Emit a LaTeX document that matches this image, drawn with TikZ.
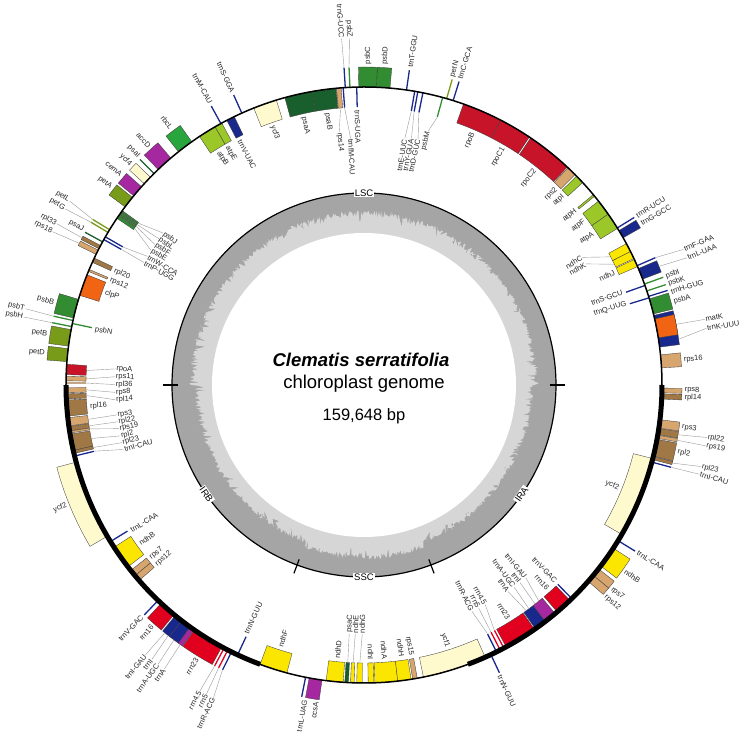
\documentclass[tikz,border=0pt]{standalone}
\usepackage{fontspec}
\setmainfont{Liberation Sans}
\definecolor{psI}{RGB}{25,95,45}
\definecolor{psII}{RGB}{50,140,50}
\definecolor{petc}{RGB}{120,155,25}
\definecolor{atpc}{RGB}{155,200,40}
\definecolor{ndhc}{RGB}{250,230,0}
\definecolor{rbcc}{RGB}{40,165,60}
\definecolor{rpoc}{RGB}{200,20,40}
\definecolor{rpsc}{RGB}{215,165,110}
\definecolor{rplc}{RGB}{160,120,70}
\definecolor{clpc}{RGB}{240,100,20}
\definecolor{othc}{RGB}{165,40,160}
\definecolor{ycfc}{RGB}{255,250,205}
\definecolor{trnc}{RGB}{25,40,140}
\definecolor{rrnc}{RGB}{225,0,30}
\definecolor{gcdark}{RGB}{165,165,165}
\definecolor{gclight}{RGB}{214,214,214}
\tikzset{
 gbox/.style={draw=black!75,line width=0.35pt},
 tline/.style={line width=1.3pt},
 leader/.style={draw=black!40,line width=0.4pt},
 lab/.style={font=\fontsize{7.5}{9}\selectfont,text=black!85,inner sep=0.7pt},
 region/.style={font=\fontsize{9.5}{11}\selectfont,fill=white,inner sep=1pt},
}
% gene boxes
\newcommand\xGO[3]{\filldraw[gbox,fill=#3] (#1:298pt) arc[start angle=#1,end angle=#2,radius=298pt] -- (#2:318pt) arc[start angle=#2,end angle=#1,radius=318pt] -- cycle;}
\newcommand\xGI[3]{\filldraw[gbox,fill=#3] (#1:278pt) arc[start angle=#1,end angle=#2,radius=278pt] -- (#2:298pt) arc[start angle=#2,end angle=#1,radius=298pt] -- cycle;}
\newcommand\xTO[2]{\draw[tline,draw=#2] (#1:298pt) -- (#1:318pt);}
\newcommand\xTI[2]{\draw[tline,draw=#2] (#1:278pt) -- (#1:298pt);}
% labels
\newcommand\xLO[3]{%
 \pgfmathsetmacro\xc{cos(#1)}%
 \ifdim\xc pt<-0.001pt
   \pgfmathsetmacro\xr{#1+180}%
   \node[lab,anchor=east,rotate=\xr] at (#1:#2pt) {#3};%
 \else
   \node[lab,anchor=west,rotate=#1] at (#1:#2pt) {#3};%
 \fi}
\newcommand\xLI[3]{%
 \pgfmathsetmacro\xc{cos(#1)}%
 \ifdim\xc pt<-0.001pt
   \pgfmathsetmacro\xr{#1+180}%
   \node[lab,anchor=west,rotate=\xr] at (#1:#2pt) {#3};%
 \else
   \node[lab,anchor=east,rotate=#1] at (#1:#2pt) {#3};%
 \fi}
\newcommand\xOL[3]{\draw[leader] (#1:318.5pt) -- (#2:347pt); \xLO{#2}{347}{#3}}
\newcommand\xIL[4]{\draw[leader] (#1:277.5pt) -- (#2:#3pt); \xLI{#2}{#3}{#4}}
\begin{document}
\begin{tikzpicture}[x=1pt,y=1pt]
\useasboundingbox (-364,-350) rectangle (381,385);
% ---------- GC ring ----------
\fill[gcdark] (0,0) circle[radius=192pt];
\pgfmathsetseed{7}
\fill[gclight] plot[domain=0:359.7,samples=1200,variable=\t]
  (\t:{175-5*((\t>180)*(\t<249.6)+(\t>290.4))-5*rnd-9*pow(rnd,6)}) -- cycle;
\fill[white] (0,0) circle[radius=152pt];
\draw[line width=1.2pt] (0,0) circle[radius=192pt];
\foreach \a in {0,180,249.6,290.4} \draw[line width=1.2pt] (\a:186pt) -- (\a:201pt);
\node[region] (lsc) at (90:192pt) {LSC};
\node[region] (ssc) at (270:192pt) {SSC};
\node[region,rotate=55.2] (ira) at (-34.8:192pt) {IRA};
\node[region,rotate=-55.2] (irb) at (214.8:192pt) {IRB};
% ---------- title ----------
\node[font=\fontsize{18.5}{22}\selectfont\bfseries\itshape] (title) at (-3,25) {Clematis serratifolia};
\node[font=\fontsize{18.5}{22}\selectfont] (sub) at (0,1) {chloroplast genome};
\node[font=\fontsize{16.5}{20}\selectfont] (size) at (0,-31) {159,648 bp};
% ---------- genes: LSC ----------
\xGO{3.3}{5.8}{rpsc}
\xGO{7.3}{13.5}{trnc}
\xGO{9.1}{12.8}{clpc}
\xGO{13.8}{16.8}{psII}
\xTO{17.3}{trnc}
\xTI{17.0}{trnc}
\xTO{18.4}{psII}
\xTO{19.8}{psII}
\xTI{19.5}{trnc}
\xGO{20.8}{23.0}{trnc}
\xTO{23.6}{trnc}
\xGI{23.4}{24.9}{ndhc}
\xGI{25.1}{26.6}{ndhc}
\xGI{26.6}{28.3}{ndhc}
\xGO{29.6}{31.2}{trnc}
\xTO{31.8}{trnc}
\xGI{31.7}{35.0}{atpc}
\xGI{35.0}{38.1}{atpc}
\xGI{39.3}{39.7}{atpc}
\xGI{42.8}{44.5}{atpc}
\xGI{44.9}{46.8}{rpsc}
\xGI{47.0}{56.0}{rpoc}
\xGI{56.3}{62.7}{rpoc}
\xGI{62.7}{70.5}{rpoc}
\xTO{72.6}{trnc}
\xTO{73.9}{petc}
\xTI{74.7}{psII}
\xTI{78.6}{trnc}
\xTI{79.6}{trnc}
\xTI{80.2}{trnc}
\xTO{81.8}{trnc}
\xGO{85.0}{87.6}{psII}
\xGO{87.6}{91.0}{psII}
\xTI{91.4}{trnc}
\xTO{92.7}{psII}
\xTO{93.6}{trnc}
\xTI{94.0}{trnc}
\xGI{94.4}{95.3}{rpsc}
\xGI{95.4}{100.0}{psI}
\xGI{100.0}{105.4}{psI}
\xGI{107.1}{111.7}{ycfc}
\xTO{114.2}{trnc}
\xGI{115.8}{117.4}{trnc}
\xTO{118.7}{trnc}
\xGI{118.5}{120.0}{atpc}
\xGI{120.0}{123.5}{atpc}
\xGO{125.3}{128.5}{rbcc}
\xGO{130.4}{133.7}{othc}
\xTO{134.8}{psI}
\xGO{135.8}{137.5}{ycfc}
\xGO{138.3}{140.6}{othc}
\xGO{141.0}{143.3}{petc}
\xGI{144.2}{144.5}{psII}
\xGI{144.6}{144.9}{psII}
\xGI{145.0}{145.3}{psII}
\xGI{145.4}{146.0}{psII}
\xTO{148.6}{petc}
\xTO{149.2}{petc}
\xTI{150.2}{trnc}
\xTI{150.8}{trnc}
\xTO{151.3}{psI}
\xGO{152.1}{152.8}{rplc}
\xGO{153.1}{154.0}{rpsc}
\xGI{154.8}{155.7}{rplc}
\xGI{157.2}{157.6}{rpsc}
\xGI{158.3}{162.5}{clpc}
\xGO{163.3}{167.0}{psII}
\xTO{167.5}{psII}
\xTI{168.1}{psII}
\xTO{168.7}{psII}
\xGO{169.3}{172.5}{petc}
\xGO{173.0}{175.5}{petc}
\xGI{176.0}{178.0}{rpoc}
\xGI{178.3}{179.2}{rpsc}
\xTI{179.6}{rplc}
% ---------- IRB ----------
\xGI{180.5}{181.5}{rpsc}
\xGI{181.7}{182.7}{rplc}
\xGI{182.9}{186.0}{rplc}
\xGI{186.3}{187.9}{rpsc}
\xGI{188.0}{188.9}{rplc}
\xGI{188.9}{189.3}{rpsc}
\xGI{189.5}{192.7}{rplc}
\xGI{192.7}{193.3}{rplc}
\xTI{193.8}{trnc}
\xGO{195.0}{210.5}{ycfc}
\xTI{211.7}{trnc}
\xGI{213.0}{217.6}{ndhc}
\xGI{218.5}{219.8}{rpsc}
\xGI{219.8}{221.0}{rpsc}
\xTO{226.3}{trnc}
\xGO{227.1}{230.4}{rrnc}
\xGO{230.7}{232.3}{trnc}
\xGO{232.3}{234.3}{trnc}
\xGO{234.3}{235.2}{othc}
\xGO{235.3}{241.5}{rrnc}
\xTO{242.0}{rrnc}
\xTO{242.8}{rrnc}
\xTO{243.6}{trnc}
\xTI{244.9}{trnc}
% ---------- SSC ----------
\xGI{249.6}{255.0}{ndhc}
\xTO{258.7}{trnc}
\xGO{259.4}{261.9}{othc}
\xGI{262.7}{266.0}{ndhc}
\xGI{266.3}{267.0}{psI}
\xGI{267.4}{268.1}{ndhc}
\xGI{268.6}{269.7}{ndhc}
\xGI{270.8}{271.9}{ndhc}
\xGI{272.1}{276.5}{ndhc}
\xGI{276.5}{279.1}{ndhc}
\xGI{279.4}{280.3}{rpsc}
\xGI{281.5}{294.0}{ycfc}
% ---------- IRA ----------
\xTO{-64.8}{trnc}
\xTI{-63.6}{trnc}
\xTI{-62.8}{rrnc}
\xTI{-62.0}{rrnc}
\xGI{-55.1}{-61.5}{rrnc}
\xGI{-52.5}{-54.9}{trnc}
\xGI{-50.1}{-52.5}{othc}
\xGI{-46.3}{-49.6}{rrnc}
\xTI{-45.8}{trnc}
\xGO{-38.1}{-39.7}{rpsc}
\xGO{-39.7}{-41.2}{rpsc}
\xGO{-33.2}{-37.4}{ndhc}
\xTO{-31.5}{trnc}
\xGI{-14.3}{-30.1}{ycfc}
\xTO{-15.0}{trnc}
\xGO{-13.9}{-14.5}{rplc}
\xGO{-10.5}{-13.8}{rplc}
\xGO{-9.7}{-10.3}{rpsc}
\xGO{-8.4}{-9.6}{rplc}
\xGO{-6.7}{-8.3}{rpsc}
\xGO{-1.7}{-2.7}{rplc}
\xGO{-0.6}{-1.5}{rpsc}
% ---------- genome circle ----------
\draw[line width=1.5pt] (0,0) circle[radius=298pt];
\draw[line width=5pt] (0:298pt) arc[start angle=0,end angle=-69.6,radius=298pt];
\draw[line width=5pt] (180:298pt) arc[start angle=180,end angle=249.6,radius=298pt];
% ---------- labels ----------
\xLO{4.5}{320}{rps16}
\xOL{11.0}{10.9}{matK}
\xOL{8.3}{9.4}{trnK-UUU}
\xLO{15.0}{320}{psbA}
\xLO{16.9}{320}{trnH-GUG}
\xLI{17.2}{275.5}{trnQ-UUG}
\xLO{18.35}{320}{psbK}
\xLO{19.8}{320}{psbI}
\xLI{19.8}{275.5}{trnS-GCU}
\xOL{21.9}{21.5}{trnL-UAA}
\xOL{23.6}{23.0}{trnF-GAA}
\xLI{24.2}{275.5}{ndhJ}
\xIL{25.8}{28.6}{253}{ndhK}
\xIL{27.5}{30.3}{253}{ndhC}
\xLO{30.2}{320}{trnG-GCC}
\xLO{31.8}{320}{trnR-UCU}
\xLI{33.4}{275.5}{atpA}
\xLI{36.6}{275.5}{atpF}
\xLI{39.5}{275.5}{atpH}
\xLI{43.5}{275.5}{atpI}
\xLI{45.6}{275.5}{rps2}
\xLI{51.5}{275.5}{rpoC2}
\xLI{59.5}{275.5}{rpoC1}
\xLI{66.6}{275.5}{rpoB}
\xLO{72.6}{320}{trnC-GCA}
\xLO{74.0}{320}{petN}
\xIL{74.7}{75.8}{262}{psbM}
\xIL{78.6}{77.6}{252}{trnD-GUC}
\xIL{79.6}{79.1}{251}{trnY-GUA}
\xIL{80.2}{80.6}{250}{trnE-UUC}
\xLO{81.7}{320}{trnT-GGU}
\xLO{86.3}{320}{psbD}
\xLO{89.3}{320}{psbC}
\xLI{91.4}{275.5}{trnS-UGA}
\xOL{92.7}{92.4}{psbZ}
\xOL{93.6}{93.7}{trnG-UCC}
\xIL{94.0}{93.1}{247}{trnfM-CAU}
\xIL{94.85}{95.6}{254}{rps14}
\xLI{97.7}{275.5}{psaB}
\xLI{102.7}{275.5}{psaA}
\xLI{109.4}{275.5}{ycf3}
\xLO{114.2}{320}{trnS-GGA}
\xLI{116.9}{275.5}{trnV-UAC}
\xLO{118.6}{320}{trnM-CAU}
\xLI{119.9}{275.5}{atpE}
\xLI{122.0}{275.5}{atpB}
\xLO{126.9}{320}{rbcL}
\xLO{132.0}{320}{accD}
\xLO{134.6}{320}{psaI}
\xLO{136.6}{320}{ycf4}
\xLO{139.2}{320}{cemA}
\xLO{142.0}{320}{petA}
\xIL{144.35}{142.9}{252}{psbJ}
\xIL{144.75}{144.5}{252}{psbL}
\xIL{145.15}{146.1}{252}{psbF}
\xIL{145.7}{147.7}{252}{psbE}
\xIL{150.2}{149.3}{252}{trnW-CCA}
\xIL{150.8}{150.9}{252}{trnP-UGG}
\xOL{148.6}{148.0}{petL}
\xOL{149.2}{149.5}{petG}
\xLO{151.0}{320}{psaJ}
\xOL{152.45}{152.3}{rpl33}
\xOL{153.55}{153.8}{rps18}
\xLI{155.3}{275.5}{rpl20}
\xLI{157.5}{275.5}{rps12}
\xLI{160.4}{275.5}{clpP}
\xLO{165.1}{320}{psbB}
\xOL{167.5}{167.3}{psbT}
\xLI{168.3}{275.5}{psbN}
\xOL{168.7}{168.7}{psbH}
\xLO{170.9}{320}{petB}
\xLO{174.3}{320}{petD}
\xIL{177.0}{176.3}{249}{rpoA}
\xIL{178.75}{178.1}{249}{rps11}
\xIL{179.6}{179.9}{249}{rpl36}
\xIL{181.0}{181.7}{249}{rps8}
\xIL{182.2}{183.4}{249}{rpl14}
\xLI{184.5}{275.5}{rpl16}
\xIL{187.1}{186.9}{249}{rps3}
\xIL{188.45}{188.5}{249}{rpl22}
\xIL{189.1}{190.1}{249}{rps19}
\xIL{191.1}{191.8}{249}{rpl2}
\xIL{193.0}{193.4}{249}{rpl23}
\xIL{193.8}{195.0}{249}{trnI-CAU}
\xLO{202.0}{320}{ycf2}
\xLI{212.0}{275.5}{trnL-CAA}
\xLI{215.3}{275.5}{ndhB}
\xLI{219.0}{275.5}{rps7}
\xLI{220.9}{275.5}{rps12}
\xLO{226.2}{320}{trnV-GAC}
\xLO{228.7}{320}{rrn16}
\xOL{231.2}{231.0}{trnI-GAU}
\xOL{232.0}{232.3}{trnI}
\xOL{233.3}{233.6}{trnA-UGC}
\xOL{234.7}{234.9}{trnA}
\xLO{238.6}{320}{rrn23}
\xOL{242.0}{241.8}{rrn4.5}
\xOL{242.8}{243.0}{rrn5}
\xOL{243.6}{244.3}{trnR-ACG}
\xLI{244.6}{275.5}{trnN-GUU}
\xLI{252.3}{275.5}{ndhF}
\xLO{259.4}{320}{trnL-UAG}
\xLO{261.4}{320}{ccsA}
\xLI{264.4}{275.5}{ndhD}
\xIL{266.65}{266.6}{249}{psaC}
\xIL{267.75}{268.0}{249}{ndhE}
\xIL{269.15}{269.6}{249}{ndhG}
\xLI{271.4}{275.5}{ndhI}
\xLI{274.3}{275.5}{ndhA}
\xLI{277.9}{275.5}{ndhH}
\xLI{279.9}{275.5}{rps15}
\xLI{287.7}{275.5}{ycf1}
\xLO{-65.0}{320}{trnN-GUU}
\xIL{-63.6}{-64.5}{251}{trnR-ACG}
\xIL{-62.8}{-62.8}{251}{rrn5}
\xIL{-62.0}{-61.1}{251}{rrn4.5}
\xLI{-58.3}{275.5}{rrn23}
\xIL{-54.3}{-55.1}{252}{trnA}
\xIL{-53.6}{-53.4}{252}{trnA-UGC}
\xIL{-52.0}{-51.7}{252}{trnI}
\xIL{-51.0}{-50.0}{252}{trnI-GAU}
\xLI{-48.0}{275.5}{rrn16}
\xLI{-45.7}{275.5}{trnV-GAC}
\xLO{-39.4}{320}{rps7}
\xLO{-41.2}{320}{rps12}
\xLO{-35.5}{320}{ndhB}
\xLO{-31.5}{320}{trnL-CAA}
\xLI{-22.0}{275.5}{ycf2}
\xOL{-15.0}{-14.9}{trnI-CAU}
\xOL{-14.2}{-13.6}{rpl23}
\xLO{-12.0}{320}{rpl2}
\xOL{-10.0}{-10.1}{rps19}
\xOL{-9.0}{-8.7}{rpl22}
\xLO{-7.5}{320}{rps3}
\xLO{-2.2}{320}{rpl14}
\xLO{-0.9}{320}{rps8}
\end{tikzpicture}
\end{document}
